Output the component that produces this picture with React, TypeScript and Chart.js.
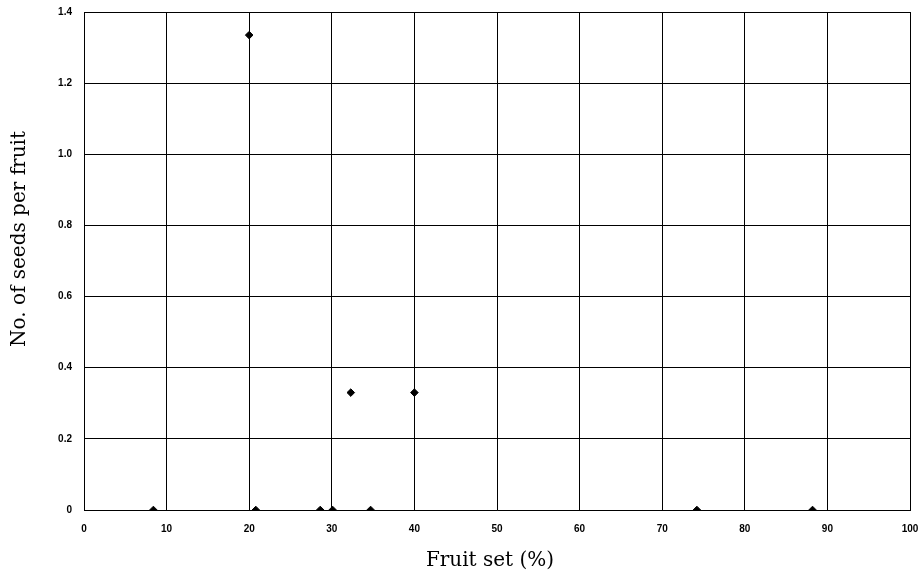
import React, { useEffect, useRef } from "react";
import { Chart, registerables } from "chart.js";

Chart.register(...registerables);

const fruitSet: number[] = [20.0, 32.3, 40.0, 8.4, 20.8, 28.6, 30.1, 34.7, 74.2, 88.2];
const seedsPerFruit: number[] = [1.335, 0.33, 0.33, 0, 0, 0, 0, 0, 0, 0];
const xTitle = "Fruit set (%)";
const yTitle = "No. of seeds per fruit";

const titlePlugin = {
  id: "axisTitles",
  afterDraw(chart: any) {
    const ctx = chart.ctx as CanvasRenderingContext2D;
    ctx.save();
    ctx.fillStyle = "#000";
    ctx.font = '20px "DejaVu Serif"';
    ctx.textAlign = "center";
    ctx.textBaseline = "alphabetic";
    ctx.fillText(xTitle, 490, 566);
    ctx.translate(25, 239);
    ctx.rotate(-Math.PI / 2);
    ctx.fillText(yTitle, 0, 0);
    ctx.restore();
  },
};

export default function App() {
  const ref = useRef<HTMLCanvasElement | null>(null);
  useEffect(() => {
    document.body.style.margin = "0";
    const ctx = ref.current!;
    const chart = new Chart(ctx, {
      type: "scatter",
      data: {
        datasets: [
          {
            data: fruitSet.map((x, i) => ({ x, y: seedsPerFruit[i] })),
            backgroundColor: "#000",
            borderColor: "#000",
            pointStyle: "rectRot",
            pointRadius: 3.8,
            pointHoverRadius: 3.8,
          },
        ],
      },
      plugins: [titlePlugin],
      options: {
        animation: false,
        responsive: false,
        maintainAspectRatio: false,
        layout: { padding: { left: 0, right: 14, top: 12, bottom: 0 } },
        plugins: { legend: { display: false }, tooltip: { enabled: false } },
        scales: {
          x: {
            type: "linear",
            min: 0,
            max: 100,
            ticks: {
              stepSize: 10,
              color: "#000",
              font: { family: "Liberation Sans", size: 10, weight: "bold" },
              padding: 13,
              maxRotation: 0,
            },
            grid: { color: "#000", lineWidth: 1, drawTicks: false },
            border: { color: "#000", width: 1 },
            afterFit: (s: any) => {
              s.height = 62;
              s.paddingLeft = 0;
              s.paddingRight = 0;
            },
          },
          y: {
            type: "linear",
            min: 0,
            max: 1.4,
            ticks: {
              stepSize: 0.2,
              color: "#000",
              font: { family: "Liberation Sans", size: 10, weight: "bold" },
              padding: 12,
              callback: (v: any) => (Number(v) === 0 ? "0" : Number(v).toFixed(1)),
            },
            grid: { color: "#000", lineWidth: 1, drawTicks: false },
            border: { color: "#000", width: 1 },
            afterFit: (s: any) => {
              s.width = 84;
              s.paddingTop = 0;
              s.paddingBottom = 0;
            },
          },
        },
      },
    });
    return () => chart.destroy();
  }, []);
  return (
    <div style={{ width: 924, height: 572, background: "#fff" }}>
      <canvas ref={ref} width={924} height={572} style={{ display: "block" }} />
    </div>
  );
}
